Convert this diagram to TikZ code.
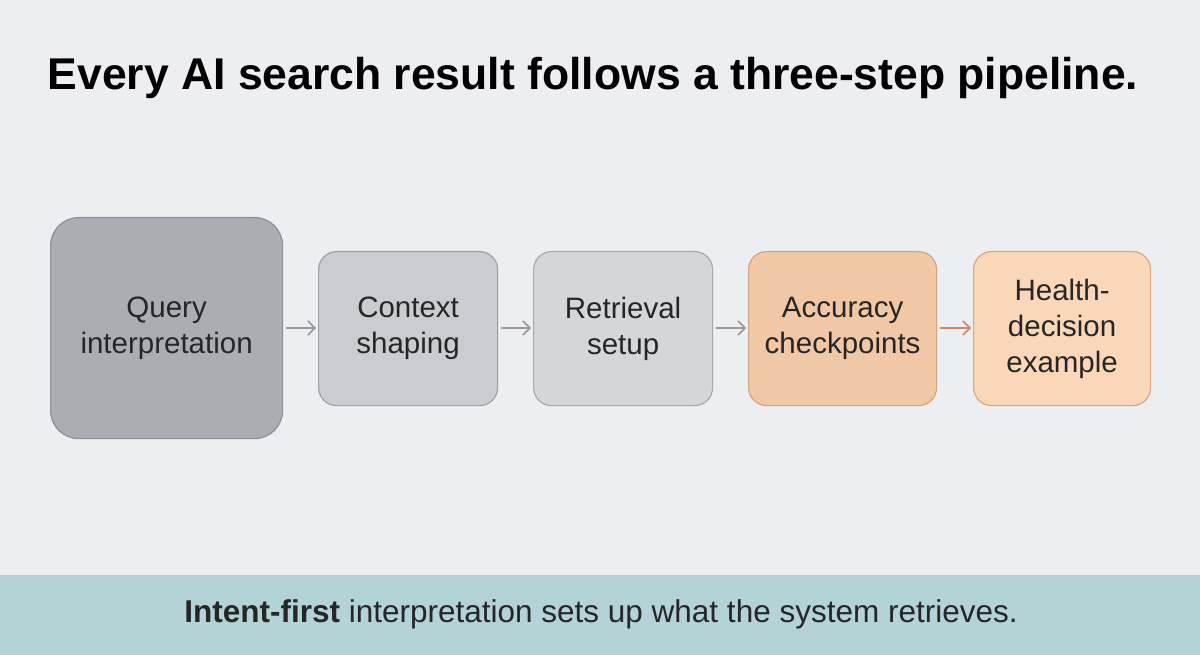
\documentclass[tikz,border=0pt]{standalone}
\usepackage{fontspec}
\setmainfont{Liberation Sans}
\usetikzlibrary{arrows.meta}
\definecolor{bg}{HTML}{ECEEF2}
\definecolor{band}{HTML}{B3D3D6}
\definecolor{f1}{HTML}{AAAEB4}\definecolor{d1}{HTML}{8C9198}
\definecolor{f2}{HTML}{C9CCD0}\definecolor{d2}{HTML}{9EA2A8}
\definecolor{f3}{HTML}{D4D7DA}\definecolor{d3}{HTML}{A5A9AE}
\definecolor{f4}{HTML}{F0C8A6}\definecolor{d4}{HTML}{D8A27B}
\definecolor{f5}{HTML}{FBD7B9}\definecolor{d5}{HTML}{DCA781}
\definecolor{oarr}{HTML}{C88A63}
\begin{document}
\begin{tikzpicture}[x=1pt,y=-1pt,
 box/.style={draw, line width=1.2pt, rounded corners=18pt, align=center, font=\fontsize{29.5}{36}\selectfont, text=black!85, anchor=north west, inner sep=0pt},
 arr/.style={-{Straight Barb[length=7pt,width=14pt]}, line width=1.5pt, draw=gray!80, shorten <=3pt, shorten >=2pt}]
\useasboundingbox (0,0) rectangle (1200,655);
\fill[bg] (0,0) rectangle (1200,655);
\fill[band] (0,575) rectangle (1200,655);
\node[font=\bfseries\fontsize{44.5}{52}\selectfont] (title) at (593,78) {Every AI search result follows a three-step pipeline.};
\node[box, fill=f1, draw=d1, minimum width=232pt, minimum height=221pt, rounded corners=28pt] (b1) at (50,217) {Query\\interpretation};
\node[box, fill=f2, draw=d2, minimum width=179pt, minimum height=154pt] (b2) at (318,251) {Context\\shaping};
\node[box, fill=f3, draw=d3, minimum width=179pt, minimum height=154pt] (b3) at (533,251) {Retrieval\\setup};
\node[box, fill=f4, draw=d4, minimum width=188pt, minimum height=154pt] (b4) at (748,251) {Accuracy\\checkpoints};
\node[box, fill=f5, draw=d5, minimum width=177pt, minimum height=154pt] (b5) at (973,251) {Health-\\decision\\example};
\draw[arr] (b1.east |- 0,328) -- (b2.west |- 0,328);
\draw[arr] (b2.east |- 0,328) -- (b3.west |- 0,328);
\draw[arr] (b3.east |- 0,328) -- (b4.west |- 0,328);
\draw[arr, draw=oarr] (b4.east |- 0,328) -- (b5.west |- 0,328);
\node[font=\fontsize{31.5}{38}\selectfont, text=black!85] (cap) at (601,614) {\textbf{Intent-first} interpretation sets up what the system retrieves.};
\end{tikzpicture}
\end{document}
